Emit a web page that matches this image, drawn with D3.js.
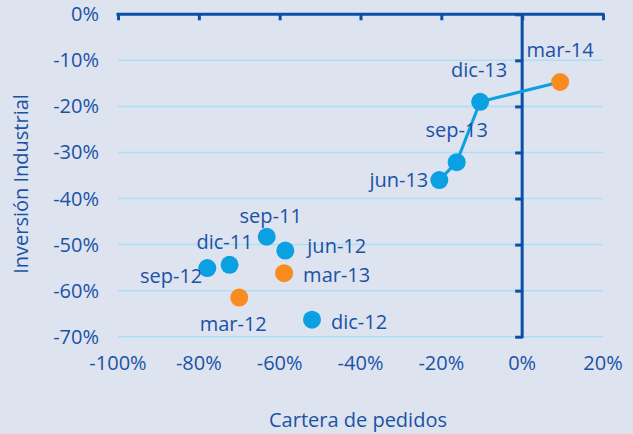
<!DOCTYPE html>
<html>
<head>
<meta charset="utf-8">
<script src="https://cdn.jsdelivr.net/npm/d3@7"></script>
<style>
  body { margin: 0; background: #dee3f0; }
  svg { display: block; font-family: "Open Sans", sans-serif; }
  .tick-label, .pt-label, .axis-title { fill: #1a52a5; font-size: 20px; }
</style>
</head>
<body>
<svg id="chart" width="633" height="434"></svg>
<script>
// data: cartera de pedidos (x) vs inversión industrial (y), in %
var periods = ["sep-11", "dic-11", "mar-12", "jun-12", "sep-12", "dic-12", "mar-13", "jun-13", "sep-13", "dic-13", "mar-14"];
var cartera = [-63.2, -72.4, -70.0, -58.6, -77.9, -52.0, -58.9, -20.5, -16.2, -10.4, 9.4];
var inversion = [-48.3, -54.4, -61.5, -51.3, -55.1, -66.3, -56.2, -36.0, -32.1, -19.0, -14.7];
var isMarch = [false, false, true, false, false, false, true, false, false, false, true];
// points joined by the line
var linked = ["jun-13", "sep-13", "dic-13", "mar-14"];

var xTicks = [-100, -80, -60, -40, -20, 0, 20];
var yTicks = [0, -10, -20, -30, -40, -50, -60, -70];

// label placement (offset from the point, in px) - layout only
var labelLayout = {
  "sep-11": [4, -14, "middle"],
  "dic-11": [-5, -16, "middle"],
  "mar-12": [-6, 33, "middle"],
  "jun-12": [22, 2, "start"],
  "sep-12": [-5, 15, "end"],
  "dic-12": [19, 9, "start"],
  "mar-13": [19, 9, "start"],
  "jun-13": [-11, 7, "end"],
  "sep-13": [0, -25, "middle"],
  "dic-13": [-1, -25, "middle"],
  "mar-14": [0, -25, "middle"]
};

var svg = d3.select("#chart");
var x = d3.scaleLinear().domain([-100, 20]).range([118, 603]);
var y = d3.scaleLinear().domain([0, -70]).range([14.3, 336.7]);

var axisColor = "#0d4ea6";
var gridColor = "#acdff5";

// gridlines
svg.append("g").selectAll("line").data(yTicks.filter(function (d) { return d !== 0; }))
  .enter().append("line")
  .attr("x1", x(-100)).attr("x2", x(20))
  .attr("y1", function (d) { return y(d); }).attr("y2", function (d) { return y(d); })
  .style("stroke", gridColor).style("stroke-width", 1.5);

// top x axis line (at y = 0%)
var xAxis = d3.axisBottom(x).tickValues(xTicks).tickSize(6).tickFormat("");
var gx = svg.append("g").attr("transform", "translate(0," + y(0) + ")").call(xAxis);
gx.select(".domain").remove();
gx.selectAll(".tick line").style("stroke", axisColor).style("stroke-width", 3);
gx.append("line").attr("x1", x(-100) - 1.5).attr("x2", x(20) + 1.5).attr("y1", 0).attr("y2", 0)
  .style("stroke", axisColor).style("stroke-width", 3);

// y axis at x = 0%
var yAxis = d3.axisLeft(y).tickValues(yTicks).tickSize(7).tickFormat("");
var gy = svg.append("g").attr("transform", "translate(" + x(0) + ",0)").call(yAxis);
gy.select(".domain").remove();
gy.selectAll(".tick line").style("stroke", axisColor).style("stroke-width", 3);
gy.append("line").attr("x1", 0).attr("x2", 0).attr("y1", y(0)).attr("y2", y(-70) + 1.5)
  .style("stroke", axisColor).style("stroke-width", 3);

// tick labels
svg.append("g").selectAll("text").data(xTicks).enter().append("text")
  .attr("class", "tick-label")
  .attr("x", function (d) { return x(d); })
  .attr("y", 370)
  .attr("text-anchor", "middle")
  .text(function (d) { return d + "%"; });

svg.append("g").selectAll("text").data(yTicks).enter().append("text")
  .attr("class", "tick-label")
  .attr("x", 99)
  .attr("y", function (d) { return y(d); })
  .attr("dy", "0.35em")
  .attr("text-anchor", "end")
  .text(function (d) { return d + "%"; });

// axis titles
svg.append("text").attr("class", "axis-title")
  .attr("x", 358).attr("y", 427).attr("text-anchor", "middle")
  .text("Cartera de pedidos");
svg.append("text").attr("class", "axis-title")
  .attr("transform", "translate(28,184) rotate(-90)").attr("text-anchor", "middle")
  .text("Inversión Industrial");

// data rows
var rows = periods.map(function (p, i) {
  return { period: p, cx: cartera[i], inv: inversion[i], march: isMarch[i] };
});

// connecting line
var line = d3.line().x(function (d) { return x(d.cx); }).y(function (d) { return y(d.inv); });
svg.append("path")
  .datum(rows.filter(function (d) { return linked.indexOf(d.period) >= 0; }))
  .attr("d", line)
  .style("fill", "none").style("stroke", "#0aa0e2").style("stroke-width", 3);

// points
svg.append("g").selectAll("circle").data(rows).enter().append("circle")
  .attr("cx", function (d) { return x(d.cx); })
  .attr("cy", function (d) { return y(d.inv); })
  .attr("r", 9)
  .style("fill", function (d) { return d.march ? "#f98c1f" : "#0aa0e2"; });

// point labels
svg.append("g").selectAll("text").data(rows).enter().append("text")
  .attr("class", "pt-label")
  .attr("x", function (d) { return x(d.cx) + labelLayout[d.period][0]; })
  .attr("y", function (d) { return y(d.inv) + labelLayout[d.period][1]; })
  .attr("text-anchor", function (d) { return labelLayout[d.period][2]; })
  .text(function (d) { return d.period; });
</script>
</body>
</html>
